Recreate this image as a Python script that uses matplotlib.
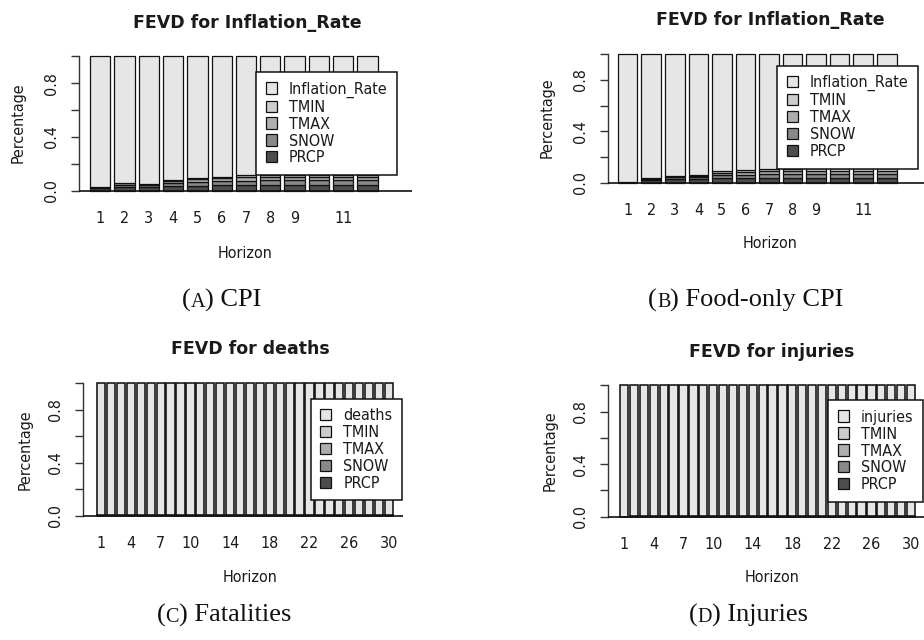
import matplotlib
matplotlib.use("Agg")
import matplotlib.pyplot as plt
from matplotlib.patches import Patch

W, H = 924, 640
fig = plt.figure(figsize=(W / 100, H / 100), dpi=100)
fig.patch.set_facecolor("white")

# ---- FEVD shares (own variable share is the remainder to 1) ----
horizons_short = list(range(1, 13))
horizons_long = list(range(1, 31))
shown_short = [1, 2, 3, 4, 5, 6, 7, 8, 9, 11]
shown_long = [1, 4, 7, 10, 14, 18, 22, 26, 30]

cpi_prcp = [0.018, 0.030, 0.030, 0.035, 0.038, 0.040, 0.042, 0.043, 0.043, 0.044, 0.044, 0.044]
cpi_snow = [0.004, 0.015, 0.012, 0.020, 0.025, 0.030, 0.032, 0.033, 0.033, 0.033, 0.033, 0.033]
cpi_tmax = [0.002, 0.010, 0.006, 0.015, 0.020, 0.022, 0.024, 0.025, 0.025, 0.025, 0.025, 0.025]
cpi_tmin = [0.001, 0.005, 0.004, 0.008, 0.012, 0.008, 0.017, 0.015, 0.016, 0.016, 0.016, 0.016]

food_prcp = [0.008, 0.025, 0.030, 0.032, 0.035, 0.036, 0.038, 0.038, 0.038, 0.038, 0.038, 0.038]
food_snow = [0.001, 0.006, 0.012, 0.015, 0.025, 0.027, 0.030, 0.031, 0.031, 0.031, 0.031, 0.031]
food_tmax = [0.001, 0.003, 0.006, 0.009, 0.018, 0.020, 0.025, 0.025, 0.026, 0.026, 0.026, 0.026]
food_tmin = [0.000, 0.002, 0.004, 0.006, 0.012, 0.013, 0.017, 0.017, 0.017, 0.017, 0.017, 0.017]

deaths_prcp = [0.002, 0.003, 0.003, 0.003, 0.003, 0.004, 0.004, 0.004, 0.004, 0.004,
               0.004, 0.004, 0.004, 0.004, 0.004, 0.004, 0.004, 0.004, 0.004, 0.004,
               0.004, 0.004, 0.004, 0.004, 0.004, 0.004, 0.004, 0.004, 0.004, 0.004]
deaths_snow = [0.000, 0.001, 0.001, 0.001, 0.001, 0.001, 0.001, 0.001, 0.001, 0.001,
               0.001, 0.001, 0.001, 0.001, 0.001, 0.001, 0.001, 0.001, 0.001, 0.001,
               0.001, 0.001, 0.001, 0.001, 0.001, 0.001, 0.001, 0.001, 0.001, 0.001]
deaths_tmax = [0.000, 0.001, 0.001, 0.001, 0.002, 0.002, 0.002, 0.002, 0.002, 0.002,
               0.002, 0.002, 0.002, 0.002, 0.002, 0.002, 0.002, 0.002, 0.002, 0.002,
               0.002, 0.002, 0.002, 0.002, 0.002, 0.002, 0.002, 0.002, 0.002, 0.002]
deaths_tmin = [0.000, 0.001, 0.001, 0.001, 0.001, 0.001, 0.001, 0.001, 0.001, 0.001,
               0.001, 0.001, 0.001, 0.001, 0.001, 0.001, 0.001, 0.001, 0.001, 0.001,
               0.001, 0.001, 0.001, 0.001, 0.001, 0.001, 0.001, 0.001, 0.001, 0.001]

injuries_prcp = [0.001, 0.002, 0.002, 0.002, 0.002, 0.002, 0.002, 0.002, 0.002, 0.002,
                 0.002, 0.002, 0.002, 0.002, 0.002, 0.002, 0.002, 0.002, 0.002, 0.002,
                 0.002, 0.002, 0.002, 0.002, 0.002, 0.002, 0.002, 0.002, 0.002, 0.002]
injuries_snow = [0.000, 0.001, 0.001, 0.001, 0.001, 0.001, 0.001, 0.001, 0.001, 0.001,
                 0.001, 0.001, 0.001, 0.001, 0.001, 0.001, 0.001, 0.001, 0.001, 0.001,
                 0.001, 0.001, 0.001, 0.001, 0.001, 0.001, 0.001, 0.001, 0.001, 0.001]
injuries_tmax = [0.000, 0.001, 0.001, 0.001, 0.001, 0.001, 0.001, 0.001, 0.001, 0.001,
                 0.001, 0.001, 0.001, 0.001, 0.001, 0.001, 0.001, 0.001, 0.001, 0.001,
                 0.001, 0.001, 0.001, 0.001, 0.001, 0.001, 0.001, 0.001, 0.001, 0.001]
injuries_tmin = [0.000, 0.000, 0.001, 0.001, 0.001, 0.001, 0.001, 0.001, 0.001, 0.001,
                 0.001, 0.001, 0.001, 0.001, 0.001, 0.001, 0.001, 0.001, 0.001, 0.001,
                 0.001, 0.001, 0.001, 0.001, 0.001, 0.001, 0.001, 0.001, 0.001, 0.001]

weather_vars = ["PRCP", "SNOW", "TMAX", "TMIN"]
# gray.colors(5): darkest at the bottom of the stack, own variable lightest
stack_colors = ["#4D4D4D", "#888888", "#AEAEAE", "#CCCCCC", "#E6E6E6"]

y_ticks = [0.0, 0.2, 0.4, 0.6, 0.8, 1.0]
y_ticklabels = ["0.0", "", "0.4", "", "0.8", ""]

TXT = "#1a1a1a"
FS = 11.5
plt.rcParams["font.family"] = ["DejaVu Sans"]
plt.rcParams["font.stretch"] = "condensed"


def px_axes(left, top, right, bottom):
    return fig.add_axes([left / W, 1 - bottom / H, (right - left) / W, (bottom - top) / H])


def fevd_panel(box, xlim, own_name, parts, horizons, shown, title, title_xy,
               xlab_xy, ylab_xy, leg_anchor, edge_lw):
    ax = px_axes(*box)
    n = len(horizons)
    centers = [0.7 + 1.2 * i for i in range(n)]
    own = [1 - sum(p[i] for p in parts) for i in range(n)]
    series = list(parts) + [own]
    bottom = [0.0] * n
    for vals, col in zip(series, stack_colors):
        ax.bar(centers, vals, width=1.0, bottom=bottom, color=col,
               edgecolor="#111111", linewidth=edge_lw, zorder=2)
        bottom = [b + v for b, v in zip(bottom, vals)]
    ax.axhline(0, color="#111111", linewidth=1.2, zorder=3)
    ax.set_xlim(*xlim)
    ax.set_ylim(-0.04, 1.04)
    for s in ["top", "right", "bottom"]:
        ax.spines[s].set_visible(False)
    ax.spines["left"].set_bounds(0, 1)
    ax.spines["left"].set_color("#333333")
    ax.spines["left"].set_linewidth(1.0)
    ax.set_yticks(y_ticks)
    ax.set_yticklabels(y_ticklabels, rotation=90, va="center", fontsize=FS, color=TXT)
    ax.tick_params(axis="y", direction="out", length=5.8, width=1.0,
                   color="#333333", pad=8.5)
    ax.set_xticks(centers)
    ax.set_xticklabels([str(h) if h in shown else "" for h in horizons],
                       fontsize=FS, color=TXT)
    ax.tick_params(axis="x", length=0, pad=11.0)
    ax.set_facecolor("none")

    handles = [Patch(facecolor=c, edgecolor="#111111", linewidth=0.9)
               for c in reversed(stack_colors)]
    labels = [own_name] + list(reversed(weather_vars))
    leg = ax.legend(handles, labels, loc="center right", bbox_to_anchor=leg_anchor,
                    prop={"size": FS, "stretch": "condensed"}, frameon=True,
                    fancybox=False, framealpha=1, edgecolor="#111111",
                    borderpad=0.6, labelspacing=0.12, handlelength=0.7,
                    handleheight=0.7, handletextpad=0.75, borderaxespad=0)
    leg.get_frame().set_linewidth(1.1)
    for t in leg.get_texts():
        t.set_color(TXT)

    fig.text(title_xy[0] / W, 1 - title_xy[1] / H, title, ha="center", va="center",
             fontsize=12.5, fontweight="bold", fontstretch="normal", color=TXT)
    fig.text(xlab_xy[0] / W, 1 - xlab_xy[1] / H, "Horizon", ha="center", va="center",
             fontsize=FS, color=TXT)
    fig.text(ylab_xy[0] / W, 1 - ylab_xy[1] / H, "Percentage", ha="center", va="center",
             rotation=90, fontsize=FS, color=TXT)
    return ax


fevd_panel((79, 51, 412, 196), (-0.35, 16.1), "Inflation_Rate",
           [cpi_prcp, cpi_snow, cpi_tmax, cpi_tmin], horizons_short, shown_short,
           "FEVD for Inflation_Rate", (247, 23), (245, 253), (18, 123),
           ((397 - 79) / 333, 0.50), 0.9)
fevd_panel((608, 49, 930, 188), (-0.3, 16.1), "Inflation_Rate",
           [food_prcp, food_snow, food_tmax, food_tmin], horizons_short, shown_short,
           "FEVD for Inflation_Rate", (770, 20), (770, 243), (547, 118),
           ((918 - 608) / 322, 0.51), 0.9)
fevd_panel((83, 378, 403, 521), (-1.49, 37.2), "deaths",
           [deaths_prcp, deaths_snow, deaths_tmax, deaths_tmin], horizons_long, shown_long,
           "FEVD for deaths", (250, 349), (250, 578), (25, 450),
           ((402 - 83) / 320, 0.50), 1.15)
fevd_panel((608, 380, 925, 522), (-1.26, 37.2), "injuries",
           [injuries_prcp, injuries_snow, injuries_tmax, injuries_tmin], horizons_long,
           shown_long, "FEVD for injuries", (772, 352), (772, 578), (550, 451),
           ((923 - 608) / 317, 0.50), 1.15)

# ---- subfigure captions with small-caps letters ----
renderer = fig.canvas.get_renderer()


def caption(cx, cy, letter, rest):
    pieces = [("(", 19), (letter, 14.5), (")" + rest, 19)]
    arts = []
    for txt, size in pieces:
        arts.append(fig.text(0, 1 - cy / H, txt, ha="left", va="baseline",
                             fontsize=size, family="Liberation Serif",
                             fontstretch="normal", color="#111111"))
    widths = [a.get_window_extent(renderer).width for a in arts]
    x = cx - sum(widths) / 2
    for a, w in zip(arts, widths):
        a.set_x(x / W)
        x += w


caption(222, 307, "A", " CPI")
caption(746, 307, "B", " Food-only CPI")
caption(224, 622, "C", " Fatalities")
caption(748, 622, "D", " Injuries")

fig.savefig("out.png", dpi=100, facecolor="white")
